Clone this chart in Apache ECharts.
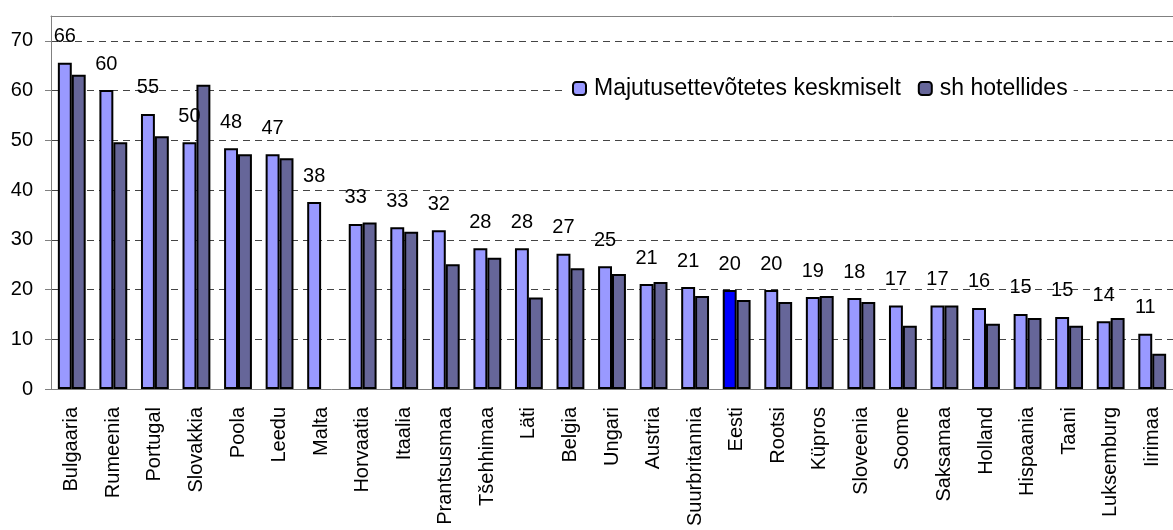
<!DOCTYPE html>
<html>
<head>
<meta charset="utf-8">
<script src="https://cdn.jsdelivr.net/npm/echarts@6/dist/echarts.min.js"></script>
<style>
  html, body { margin: 0; padding: 0; background: #fff; }
  #chart { width: 1173px; height: 530px; }
</style>
</head>
<body>
<div id="chart"></div>
<script>
var categories = ['Bulgaaria', 'Rumeenia', 'Portugal', 'Slovakkia', 'Poola', 'Leedu', 'Malta',
  'Horvaatia', 'Itaalia', 'Prantsusmaa', 'Tšehhimaa', 'Läti', 'Belgia', 'Ungari', 'Austria',
  'Suurbritannia', 'Eesti', 'Rootsi', 'Küpros', 'Sloveenia', 'Soome', 'Saksamaa', 'Holland',
  'Hispaania', 'Taani', 'Luksemburg', 'Iirimaa'];

var keskmiselt = [65.6, 60.1, 55.3, 49.6, 48.4, 47.2, 37.6, 33.2, 32.5, 31.9, 28.3, 28.3, 27.2,
  24.7, 21.1, 20.5, 19.9, 19.9, 18.5, 18.3, 16.8, 16.8, 16.3, 15.1, 14.5, 13.6, 11.1];

var hotellides = [63.2, 49.6, 50.8, 61.2, 47.2, 46.4, null, 33.5, 31.6, 25.1, 26.4, 18.4, 24.3,
  23.1, 21.5, 18.7, 17.9, 17.5, 18.7, 17.5, 12.7, 16.8, 13.1, 14.3, 12.7, 14.3, 7.1];

var seriesNames = ['Majutusettevõtetes keskmiselt', 'sh hotellides'];
var highlight = 'Eesti';

var myChart = echarts.init(document.getElementById('chart'));

var font = 'Liberation Sans, Arial, sans-serif';

option = {
  animation: false,
  textStyle: { fontFamily: font },
  legend: {
    data: seriesNames,
    left: 566,
    top: 72,
    padding: [5, 6],
    backgroundColor: '#fff',
    itemWidth: 13,
    itemHeight: 13,
    itemGap: 17,
    textStyle: { fontSize: 23, color: '#000', fontFamily: font, padding: [0, 0, 0, 3] }
  },
  grid: { left: 51, top: 16, right: -9, bottom: 141 },
  xAxis: [{
    type: 'category',
    data: categories,
    axisLine: { lineStyle: { color: '#808080', width: 1 } },
    axisTick: { length: 5, lineStyle: { color: '#808080' } },
    axisLabel: { rotate: 90, margin: 18, fontSize: 20, color: '#000', fontFamily: font, interval: 0 }
  }, {
    type: 'category',
    position: 'top',
    data: categories,
    axisLine: { show: true, lineStyle: { color: '#808080', width: 1 } },
    axisTick: { show: false },
    axisLabel: { show: false }
  }],
  yAxis: {
    type: 'value',
    min: 0,
    max: 75,
    interval: 10,
    axisLine: { show: true, lineStyle: { color: '#808080' } },
    axisTick: { show: true, length: 6, lineStyle: { color: '#808080' } },
    axisLabel: { fontSize: 20, color: '#000', margin: 18, fontFamily: font, showMaxLabel: false },
    splitLine: {
      show: true,
      showMinLine: false,
      showMaxLine: false,
      lineStyle: { color: '#444', type: [7, 5], width: 1 }
    }
  },
  series: [{
    name: seriesNames[0],
    type: 'bar',
    barGap: '0%',
    barCategoryGap: '33%',
    itemStyle: { color: '#9999FF', borderColor: '#000', borderWidth: 2 },
    label: {
      show: true,
      position: 'top',
      distance: 16,
      fontSize: 20,
      color: '#000',
      fontFamily: font,
      formatter: function (p) { return Math.round(p.value); }
    },
    data: keskmiselt.map(function (v, i) {
      if (categories[i] === highlight) {
        return { value: v, itemStyle: { color: '#0000FF' } };
      }
      return v;
    })
  }, {
    name: seriesNames[1],
    type: 'bar',
    itemStyle: { color: '#666699', borderColor: '#000', borderWidth: 2 },
    data: hotellides
  }]
};

myChart.setOption(option);
</script>
</body>
</html>
